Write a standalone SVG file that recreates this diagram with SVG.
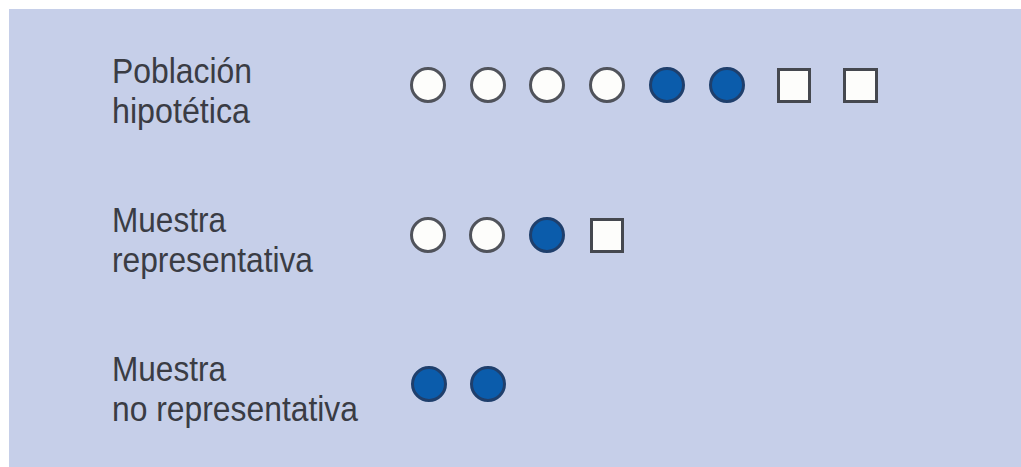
<svg xmlns="http://www.w3.org/2000/svg" width="1021" height="467" viewBox="0 0 1021 467">
  <style>
    .lbl { font-family: "Liberation Sans", Arial, sans-serif; font-size: 35px; fill: #3a3c44; }
    .open { fill: #fdfdfb; stroke: #50535b; stroke-width: 3; }
    .full { fill: #0b5cab; stroke: #1f3f6c; stroke-width: 3; }
    .box { fill: #fdfdfb; stroke: #45484f; stroke-width: 3; }
  </style>
  <defs>
    <circle id="dot" r="16.5"/>
  </defs>

  <rect x="0" y="0" width="1021" height="467" fill="#ffffff"/>
  <rect id="panel" x="9" y="9" width="1012" height="458" fill="#c6cfe9"/>

  <!-- Row 1: hypothetical population -->
  <g id="poblacion">
    <text class="lbl" x="112" y="83" textLength="140" lengthAdjust="spacingAndGlyphs">Población</text>
    <text class="lbl" x="112" y="123" textLength="138" lengthAdjust="spacingAndGlyphs">hipotética</text>
    <use href="#dot" class="open" x="428" y="85"/>
    <use href="#dot" class="open" x="488" y="85"/>
    <use href="#dot" class="open" x="547" y="85"/>
    <use href="#dot" class="open" x="607" y="85"/>
    <use href="#dot" class="full" x="667" y="85"/>
    <use href="#dot" class="full" x="727" y="85"/>
    <rect class="box" x="778.5" y="69.5" width="31" height="32"/>
    <rect class="box" x="844.5" y="69.5" width="32" height="32"/>
  </g>

  <!-- Row 2: representative sample -->
  <g id="muestra-representativa">
    <text class="lbl" x="112" y="232" textLength="114" lengthAdjust="spacingAndGlyphs">Muestra</text>
    <text class="lbl" x="112" y="272" textLength="201" lengthAdjust="spacingAndGlyphs">representativa</text>
    <use href="#dot" class="open" x="428" y="235"/>
    <use href="#dot" class="open" x="487" y="235"/>
    <use href="#dot" class="full" x="547" y="235"/>
    <rect class="box" x="591.5" y="219.5" width="31" height="32"/>
  </g>

  <!-- Row 3: non-representative sample -->
  <g id="muestra-no-representativa">
    <text class="lbl" x="112" y="381" textLength="114" lengthAdjust="spacingAndGlyphs">Muestra</text>
    <text class="lbl" x="112" y="421" textLength="246" lengthAdjust="spacingAndGlyphs">no representativa</text>
    <use href="#dot" class="full" x="429" y="384"/>
    <use href="#dot" class="full" x="488" y="384"/>
  </g>
</svg>
